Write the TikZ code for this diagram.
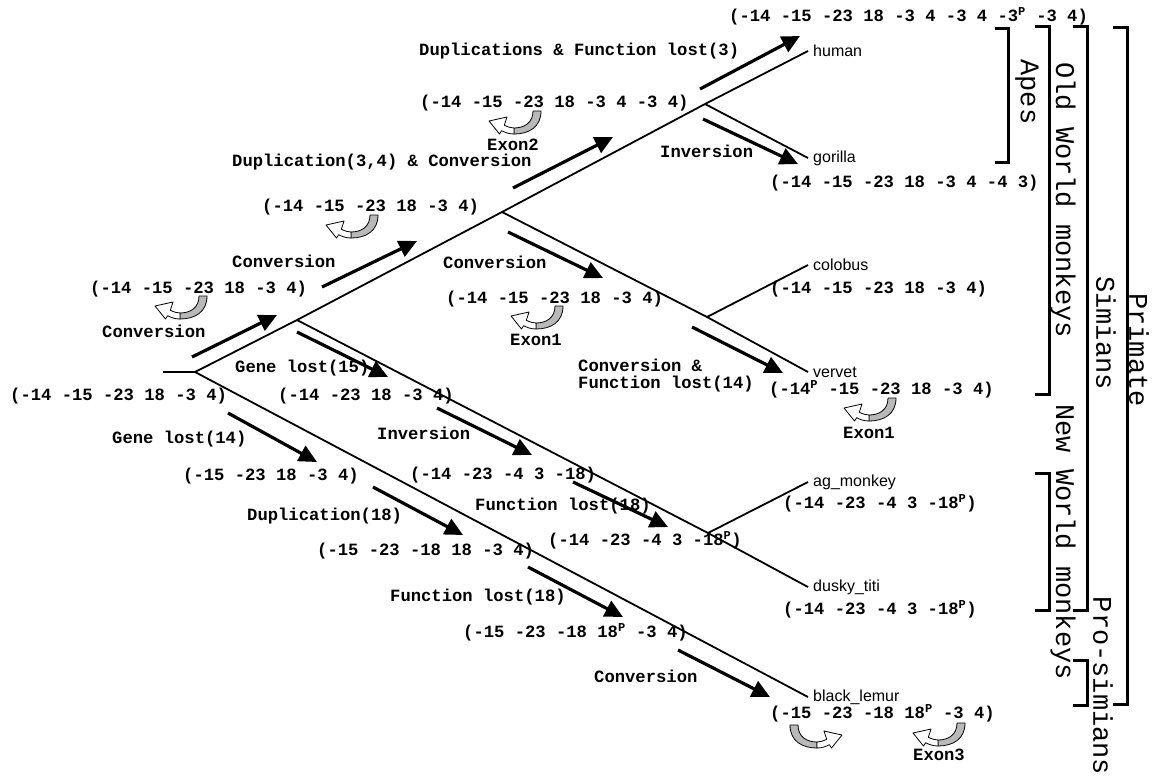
\documentclass[tikz,border=0pt]{standalone}
\usepackage{fontspec}
\usetikzlibrary{arrows.meta}
\setmainfont{Liberation Mono}
\newfontfamily\monof{Liberation Mono}
\newfontfamily\arialf{Liberation Sans}
\newcommand{\pmark}{\textsuperscript{P}}

\tikzset{
  lbl/.style={font=\monof\bfseries\fontsize{17.2}{17}\selectfont, inner sep=0pt, anchor=west},
  sp/.style={font=\arialf\fontsize{16}{18}\selectfont, inner sep=0pt, inner xsep=5pt, anchor=west},
  grp/.style={font=\monof\fontsize{27}{30}\selectfont, rotate=-90, inner sep=0pt},
  evt/.style={line width=3.2pt, -{Triangle[length=18pt,width=17pt]}},
  branch/.style={line width=1.8pt},
  brk/.style={line width=3pt, line join=miter},
  convsym/.pic={
    \filldraw[fill=gray!55, line width=0.8pt, line join=round]
      (19,-23) -- (27,-23) .. controls (27,-7) and (15,0) .. (0,0)
      -- (0,-6) .. controls (10,-6) and (19,-11) .. (19,-23) -- cycle;
    \filldraw[fill=white, line width=0.8pt, line join=round]
      (0,0) .. controls (-5,0) and (-9,-1.5) .. (-12.3,-3.3)
      -- (-14.5,0) -- (-25,-13) -- (-7,-17) -- (-9.7,-8.7)
      .. controls (-6,-7) and (-3,-6) .. (0,-6) -- cycle;
  }
}

\begin{document}
\begin{tikzpicture}[x=1pt, y=-1pt]
\useasboundingbox (0,0) rectangle (1153,780);

% ---- species ----
\node[sp] (human)   at (808,51)  {human};
\node[sp] (gorilla) at (808,158) {gorilla};
\node[sp] (colobus) at (808,265) {colobus};
\node[sp] (vervet)  at (808,372) {vervet};
\node[sp] (ag)      at (808,482) {ag\_monkey};
\node[sp] (dusky)   at (808,587) {dusky\_titi};
\node[sp] (lemur)   at (808,697) {black\_lemur};

% ---- tree ----
\coordinate (root) at (163,372);
\coordinate (r) at (195,372);
\coordinate (a) at (297,320);
\coordinate (b) at (502,212);
\coordinate (c) at (705,104);
\coordinate (d) at (707,317);
\coordinate (e) at (708,533);

\draw[branch] (root) -- (r) -- (a) -- (b) -- (c) -- (human.west);
\draw[branch] (c) -- (gorilla.west);
\draw[branch] (b) -- (d) -- (vervet.west);
\draw[branch] (d) -- (colobus.west);
\draw[branch] (a) -- (e) -- (dusky.west);
\draw[branch] (e) -- (ag.west);
\draw[branch] (r) -- (lemur.west);

% ---- event arrows along the branches ----
\draw[evt] (192,357) -- (277,315);
\draw[evt] (322,287) -- (417,241);
\draw[evt] (513,188) -- (613,137);
\draw[evt] (700,89)  -- (800,36);
\draw[evt] (703,119) -- (798,164);
\draw[evt] (508,232) -- (603,278);
\draw[evt] (692,327) -- (783,373);
\draw[evt] (297,332) -- (388,377);
\draw[evt] (437,408) -- (532,455);
\draw[evt] (573,482) -- (668,527);
\draw[evt] (228,413) -- (317,462);
\draw[evt] (373,487) -- (463,535);
\draw[evt] (528,567) -- (623,617);
\draw[evt] (678,650) -- (770,697);

% ---- gene orders and events ----
\node[lbl] (s0)  at (10,396)  {(-14 -15 -23 18 -3 4)};
\node[lbl] (s1)  at (90,289)  {(-14 -15 -23 18 -3 4)};
\node[lbl] (e1)  at (102,331) {Conversion};
\node[lbl] (e2)  at (232,261) {Conversion};
\node[lbl] (s2)  at (262,207) {(-14 -15 -23 18 -3 4)};
\node[lbl] (e3)  at (232,162) {Duplication(3,4) \& Conversion};
\node[lbl] (s3)  at (420,103) {(-14 -15 -23 18 -3 4 -3 4)};
\node[lbl] (x2)  at (487,145) {Exon2};
\node[lbl] (e4)  at (419,51)  {Duplications \& Function lost(3)};
\node[lbl] (s4)  at (729,16)  {(-14 -15 -23 18 -3 4 -3 4 -3\pmark{} -3 4)};
\node[lbl] (e5)  at (660,151) {Inversion};
\node[lbl] (s5)  at (770,183) {(-14 -15 -23 18 -3 4 -4 3)};
\node[lbl] (e6)  at (443,262) {Conversion};
\node[lbl] (s6)  at (446,299) {(-14 -15 -23 18 -3 4)};
\node[lbl] (x1)  at (510,340) {Exon1};
\node[lbl] (s7)  at (770,289) {(-14 -15 -23 18 -3 4)};
\node[lbl, align=left] (e7) at (578,376) {Conversion \&\\Function lost(14)};
\node[lbl] (s8)  at (769,389) {(-14\pmark{} -15 -23 18 -3 4)};
\node[lbl] (x1b) at (843,433) {Exon1};
\node[lbl] (e8)  at (235,368) {Gene lost(15)};
\node[lbl] (s9)  at (278,396) {(-14 -23 18 -3 4)};
\node[lbl] (e9)  at (377,433) {Inversion};
\node[lbl] (s10) at (410,475) {(-14 -23 -4 3 -18)};
\node[lbl] (e10) at (475,506) {Function lost(18)};
\node[lbl] (s11) at (548,540) {(-14 -23 -4 3 -18\pmark)};
\node[lbl] (s12) at (783,503) {(-14 -23 -4 3 -18\pmark)};
\node[lbl] (s13) at (783,609) {(-14 -23 -4 3 -18\pmark)};
\node[lbl] (e11) at (112,439) {Gene lost(14)};
\node[lbl] (s14) at (183,476) {(-15 -23 18 -3 4)};
\node[lbl] (e12) at (247,516) {Duplication(18)};
\node[lbl] (s15) at (317,551) {(-15 -23 -18 18 -3 4)};
\node[lbl] (e13) at (390,597) {Function lost(18)};
\node[lbl] (s16) at (463,632) {(-15 -23 -18 18\pmark{} -3 4)};
\node[lbl] (e14) at (594,676) {Conversion};
\node[lbl] (s17) at (770,713) {(-15 -23 -18 18\pmark{} -3 4)};
\node[lbl] (x3)  at (913,755) {Exon3};

% ---- conversion symbols ----
\pic at (180,319) {convsym};
\pic at (351,238) {convsym};
\pic at (514,134) {convsym};
\pic at (536,329) {convsym};
\pic at (869,421) {convsym};
\pic[xscale=-1] at (817,748) {convsym};
\pic at (938,746) {convsym};

% ---- clade brackets ----
\draw[brk] (995,28)  -- (1008,28)  -- (1008,162) -- (995,162);
\draw[brk] (1035,26) -- (1049,26)  -- (1049,394) -- (1035,394);
\draw[brk] (1073,26) -- (1087,26)  -- (1087,610) -- (1073,610);
\draw[brk] (1113,27) -- (1127,27)  -- (1127,704) -- (1113,704);
\draw[brk] (1035,473) -- (1049,473) -- (1049,610) -- (1035,610);
\draw[brk] (1073,660) -- (1087,660) -- (1087,705) -- (1073,705);

\node[grp] (apes)  at (1027,92)  {Apes};
\node[grp] (owm)   at (1063,200) {Old World monkeys};
\node[grp] (sim)   at (1106,333) {Simians};
\node[grp] (prim)  at (1139,350) {Primate};
\node[grp] (nwm)   at (1063,542) {New World monkeys};
\node[grp] (pros)  at (1103,686) {Pro-simians};
\end{tikzpicture}
\end{document}
